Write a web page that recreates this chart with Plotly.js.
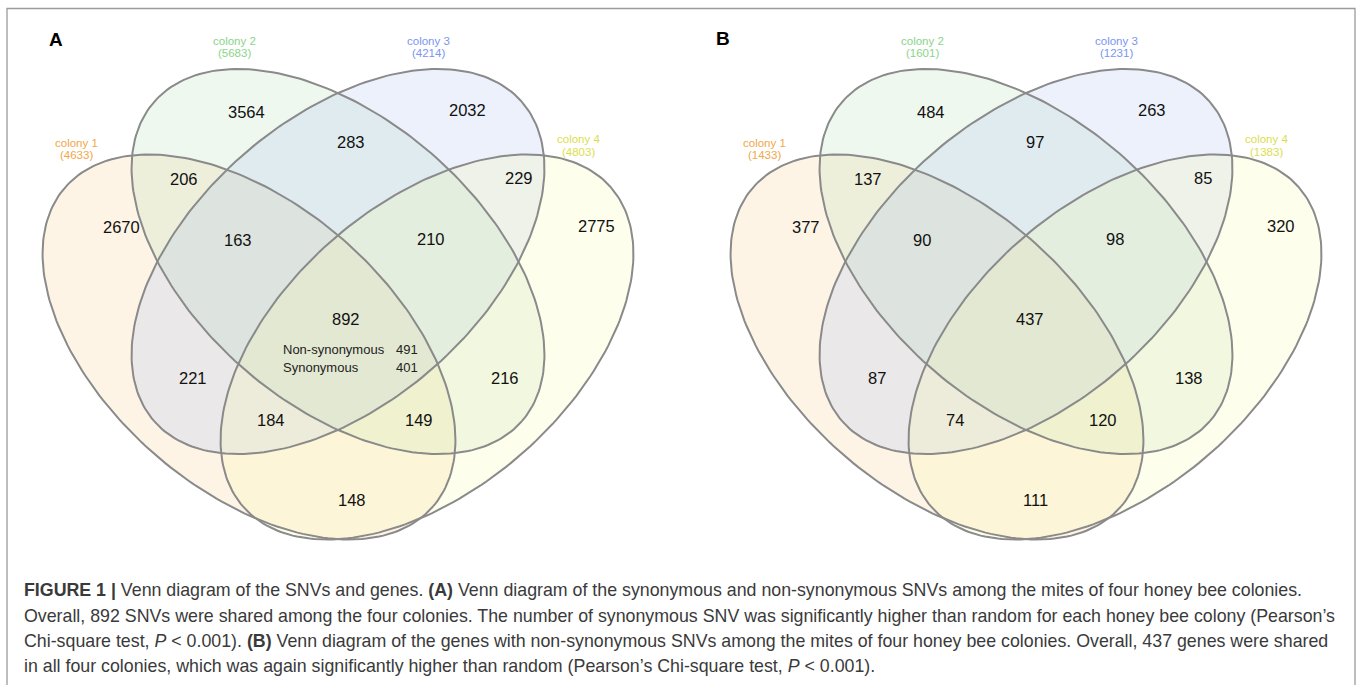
<!DOCTYPE html>
<html><head><meta charset="utf-8">
<script src="https://cdn.plot.ly/plotly-3.0.1.min.js"></script>
<style>html,body{margin:0;padding:0;background:#fff;} #chart{width:1358px;height:685px;}</style>
</head><body><div id="chart"></div>
<script>
// ---------------- data ----------------
const setNames = ['colony 1', 'colony 2', 'colony 3', 'colony 4'];
const totalsA = [4633, 5683, 4214, 4803];
const totalsB = [1433, 1601, 1231, 1383];
// region keys: which colonies share the region
const regionKeys = ['1', '2', '3', '4', '12', '34', '23', '123', '234', '13', '24', '134', '124', '14', '1234'];
const countsA = [2670, 3564, 2032, 2775, 206, 229, 283, 163, 210, 221, 216, 184, 149, 148, 892];
const countsB = [377, 484, 263, 320, 137, 85, 97, 90, 98, 87, 138, 74, 120, 111, 437];
const coreSplitNames = ['Non-synonymous', 'Synonymous'];
const coreSplitA = [491, 401];
const panelLetters = ['A', 'B'];
const captionLines = [
  '<b>FIGURE 1 |</b> Venn diagram of the SNVs and genes. <b>(A)</b> Venn diagram of the synonymous and non-synonymous SNVs among the mites of four honey bee colonies.',
  'Overall, 892 SNVs were shared among the four colonies. The number of synonymous SNV was significantly higher than random for each honey bee colony (Pearson\u2019s',
  'Chi-square test, <i>P</i> &lt; 0.001). <b>(B)</b> Venn diagram of the genes with non-synonymous SNVs among the mites of four honey bee colonies. Overall, 437 genes were shared',
  'in all four colonies, which was again significantly higher than random (Pearson\u2019s Chi-square test, <i>P</i> &lt; 0.001).'
];

// ---------------- layout / geometry (diagram-local units) ----------------
const regionLabelX = [-216.3, -91.3, 129.5, 258.5, -154, 181, 13, -100.4, 92.6, -144.6, 167.2, -67.3, 80.7, 13.7, 7.5];
const regionLabelY = [-34.8, -149.8, -151.5, -35.8, -82.5, -83.2, -119.8, -21.8, -22.5, 116.1, 116.1, 158.5, 158.5, 238.5, 57.8];
const panelLabelShift = [0, -4];
const setLabelX = [-261.3, -103.7, 90.7, 240.3];
const setLabelY = [-118.8, -220.5, -220.8, -122.2];
const setLabelGap = 12.5;
const ellA = 243.5, ellB = 142.8, ellTilt = 40.9;
const ellCx = [-89, 0, 0, 89];
const ellCy = [85.5, 0, 0, 85.5];
const ellDir = [1, 1, -1, -1];
const fillBase = ['245,198,130', '175,220,175', '160,185,240', '250,250,160'];
const fillAlpha = 0.2;
const labelColors = ['#f2a648', '#8ad48a', '#7b95ef', '#dddd4c'];
const outlineColor = '#8a8a8a';

const W = 1358, H = 685;
const panelCenterPx = [338, 1026];
const centerPy = 261.5;
const halfW = 330, yTopPx = 20, yBotPx = 560;

function ellipsePts(i) {
  const th = ellDir[i] * ellTilt * Math.PI / 180;
  const c = Math.cos(th), s = Math.sin(th);
  const xs = [], ys = [];
  for (let k = 0; k <= 240; k++) {
    const t = 2 * Math.PI * k / 240;
    const u = ellA * Math.cos(t), v = ellB * Math.sin(t);
    xs.push(ellCx[i] + u * c - v * s);
    ys.push(ellCy[i] + u * s + v * c);
  }
  return [xs, ys];
}

const traces = [];
const annotations = [];
const panels = [
  {totals: totalsA, counts: countsA, split: coreSplitA},
  {totals: totalsB, counts: countsB, split: null}
];
const layout = {
  width: W, height: H,
  margin: {l: 0, r: 0, t: 0, b: 0},
  paper_bgcolor: '#fff', plot_bgcolor: 'rgba(0,0,0,0)',
  showlegend: false,
  font: {family: 'Liberation Sans, Arial, sans-serif'},
  shapes: [{
    type: 'rect', xref: 'paper', yref: 'paper',
    x0: 7 / W, x1: 1355 / W, y0: -0.05, y1: 1 - 8.5 / H,
    line: {color: '#9a9a9a', width: 1.3}, fillcolor: 'rgba(0,0,0,0)'
  }],
  annotations: annotations
};

panels.forEach((p, pi) => {
  const xa = pi === 0 ? 'x' : 'x2', ya = pi === 0 ? 'y' : 'y2';
  const xk = pi === 0 ? 'xaxis' : 'xaxis2', yk = pi === 0 ? 'yaxis' : 'yaxis2';
  const cx = panelCenterPx[pi];
  const sh = panelLabelShift[pi];
  layout[xk] = {domain: [(cx - halfW) / W, (cx + halfW) / W], range: [-halfW, halfW], visible: false, fixedrange: true, anchor: ya};
  layout[yk] = {domain: [1 - yBotPx / H, 1 - yTopPx / H], range: [yBotPx - centerPy, yTopPx - centerPy], visible: false, fixedrange: true, anchor: xa};
  for (let i = 0; i < 4; i++) {
    const [xs, ys] = ellipsePts(i);
    traces.push({x: xs, y: ys, xaxis: xa, yaxis: ya, type: 'scatter', mode: 'lines', fill: 'toself',
      fillcolor: 'rgba(' + fillBase[i] + ',' + fillAlpha + ')', line: {width: 0}, hoverinfo: 'skip', name: setNames[i]});
  }
  for (let i = 0; i < 4; i++) {
    const [xs, ys] = ellipsePts(i);
    traces.push({x: xs, y: ys, xaxis: xa, yaxis: ya, type: 'scatter', mode: 'lines',
      line: {color: outlineColor, width: 2}, hoverinfo: 'skip', name: setNames[i]});
  }
  regionKeys.forEach((k, r) => {
    annotations.push({xref: xa, yref: ya, x: regionLabelX[r] + sh, y: regionLabelY[r], text: String(p.counts[r]),
      showarrow: false, xanchor: 'center', yanchor: 'middle', font: {size: 16.5, color: '#111'}});
  });
  setNames.forEach((n, i) => {
    annotations.push({xref: xa, yref: ya, x: setLabelX[i], y: setLabelY[i], text: n, showarrow: false,
      xanchor: 'center', yanchor: 'middle', font: {size: 11.5, color: labelColors[i]}});
    annotations.push({xref: xa, yref: ya, x: setLabelX[i], y: setLabelY[i] + setLabelGap, text: '(' + p.totals[i] + ')', showarrow: false,
      xanchor: 'center', yanchor: 'middle', font: {size: 11.5, color: labelColors[i]}});
  });
  if (p.split) {
    const yy = [87.8, 106.2];
    coreSplitNames.forEach((n, j) => {
      annotations.push({xref: xa, yref: ya, x: -57.3, y: yy[j], text: n, showarrow: false,
        xanchor: 'left', yanchor: 'middle', font: {size: 13, color: '#222'}});
      annotations.push({xref: xa, yref: ya, x: 81.5, y: yy[j], text: String(p.split[j]), showarrow: false,
        xanchor: 'right', yanchor: 'middle', font: {size: 13, color: '#222'}});
    });
  }
});

const letterPx = [[55.8, 39.3], [723.4, 38.6]];
panelLetters.forEach((L, i) => {
  annotations.push({xref: 'paper', yref: 'paper', x: letterPx[i][0] / W, y: 1 - letterPx[i][1] / H, text: '<b>' + L + '</b>',
    showarrow: false, xanchor: 'center', yanchor: 'middle', font: {size: 19, color: '#000'}});
});

const capY = [590, 615.5, 641, 666];
captionLines.forEach((t, i) => {
  annotations.push({xref: 'paper', yref: 'paper', x: 22 / W, y: 1 - capY[i] / H, text: t, showarrow: false,
    xanchor: 'left', yanchor: 'middle', align: 'left', font: {size: 17.8, color: '#3a3a3a'}});
});

Plotly.newPlot('chart', traces, layout, {staticPlot: true, displayModeBar: false});
</script>
</body></html>
